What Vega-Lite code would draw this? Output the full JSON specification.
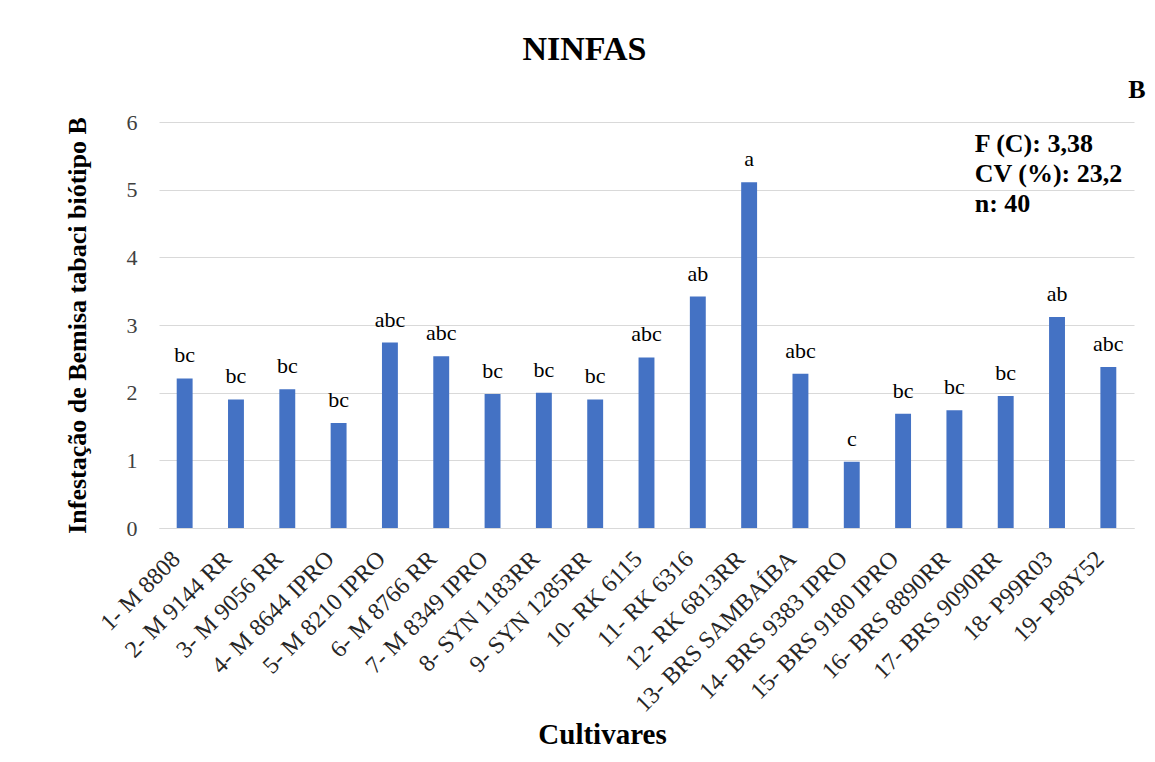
{
  "$schema": "https://vega.github.io/schema/vega-lite/v6.json",
  "autosize": "none",
  "width": 975,
  "height": 406,
  "padding": {"left": 159, "top": 122, "right": 21, "bottom": 234},
  "background": "white",
  "title": {
    "text": "NINFAS",
    "font": "Liberation Serif",
    "fontSize": 34,
    "fontWeight": "bold",
    "color": "#000000",
    "anchor": "middle",
    "baseline": "alphabetic",
    "offset": -17,
    "dx": -62
  },
  "config": {
    "view": {"stroke": null},
    "font": "Liberation Serif",
    "mark": {"font": "Liberation Serif"},
    "text": {"font": "Liberation Serif"}
  },
  "data": {
    "values": [
      {"cultivar": "1- M 8808", "valor": 2.21, "letra": "bc"},
      {"cultivar": "2- M 9144 RR", "valor": 1.90, "letra": "bc"},
      {"cultivar": "3- M 9056 RR", "valor": 2.05, "letra": "bc"},
      {"cultivar": "4- M 8644 IPRO", "valor": 1.55, "letra": "bc"},
      {"cultivar": "5- M 8210 IPRO", "valor": 2.74, "letra": "abc"},
      {"cultivar": "6- M 8766  RR", "valor": 2.54, "letra": "abc"},
      {"cultivar": "7- M 8349 IPRO", "valor": 1.98, "letra": "bc"},
      {"cultivar": "8- SYN 1183RR", "valor": 2.00, "letra": "bc"},
      {"cultivar": "9- SYN 1285RR", "valor": 1.90, "letra": "bc"},
      {"cultivar": "10- RK 6115", "valor": 2.52, "letra": "abc"},
      {"cultivar": "11- RK 6316", "valor": 3.42, "letra": "ab"},
      {"cultivar": "12- RK 6813RR", "valor": 5.11, "letra": "a"},
      {"cultivar": "13- BRS SAMBAÍBA", "valor": 2.28, "letra": "abc"},
      {"cultivar": "14- BRS 9383 IPRO", "valor": 0.98, "letra": "c"},
      {"cultivar": "15- BRS 9180 IPRO", "valor": 1.69, "letra": "bc"},
      {"cultivar": "16- BRS 8890RR", "valor": 1.74, "letra": "bc"},
      {"cultivar": "17- BRS 9090RR", "valor": 1.95, "letra": "bc"},
      {"cultivar": "18- P99R03", "valor": 3.12, "letra": "ab"},
      {"cultivar": "19- P98Y52", "valor": 2.38, "letra": "abc"}
    ]
  },
  "layer": [
    {
      "mark": {"type": "bar", "color": "#4472C4"},
      "encoding": {
        "x": {
          "field": "cultivar",
          "type": "nominal",
          "sort": null,
          "scale": {"paddingInner": 0.69, "paddingOuter": 0.345},
          "axis": {
            "title": "Cultivares",
            "titleFont": "Liberation Serif",
            "titleFontSize": 29,
            "titleFontWeight": "bold",
            "titleColor": "#000000",
            "titleX": 443,
            "titleY": 215,
            "titleBaseline": "alphabetic",
            "titleAlign": "center",
            "labelAngle": -45,
            "labelAlign": "right",
            "labelBaseline": "middle",
            "labelFont": "Liberation Serif",
            "labelFontSize": 24,
            "labelColor": "#262626",
            "labelPadding": 27,
            "labelOffset": -8,
            "labelOverlap": false,
            "labelLimit": 400,
            "ticks": false,
            "domainColor": "#d9d9d9",
            "domainWidth": 1
          }
        },
        "y": {
          "field": "valor",
          "type": "quantitative",
          "scale": {"domain": [0, 6], "nice": false},
          "axis": {
            "title": "Infestação de Bemisa tabaci biótipo B",
            "titleFont": "Liberation Serif",
            "titleFontSize": 26,
            "titleFontWeight": "bold",
            "titleColor": "#000000",
            "titleX": -82,
            "titleY": 203,
            "titleAngle": -90,
            "titleAlign": "center",
            "titleBaseline": "middle",
            "values": [0, 1, 2, 3, 4, 5, 6],
            "format": "d",
            "labelFont": "Liberation Serif",
            "labelFontSize": 22,
            "labelColor": "#404040",
            "labelPadding": 22,
            "ticks": false,
            "domain": false,
            "grid": true,
            "gridColor": "#d9d9d9",
            "gridWidth": 1
          }
        }
      }
    },
    {
      "mark": {
        "type": "text",
        "font": "Liberation Serif",
        "fontSize": 22,
        "color": "#000000",
        "baseline": "alphabetic",
        "dy": -16
      },
      "encoding": {
        "x": {"field": "cultivar", "type": "nominal", "sort": null},
        "y": {"field": "valor", "type": "quantitative"},
        "text": {"field": "letra"}
      }
    },
    {
      "data": {"values": [{"rotulo": "F (C): 3,38\nCV (%): 23,2\nn: 40"}]},
      "mark": {
        "type": "text",
        "font": "Liberation Serif",
        "fontSize": 26,
        "fontWeight": "bold",
        "color": "#000000",
        "align": "left",
        "baseline": "alphabetic",
        "lineBreak": "\n",
        "lineHeight": 30,
        "dx": -31
      },
      "encoding": {
        "x": {"datum": "17- BRS 9090RR", "type": "nominal"},
        "y": {"datum": 5.556, "type": "quantitative"},
        "text": {"field": "rotulo", "type": "nominal"}
      }
    },
    {
      "data": {"values": [{"rotulo": "B"}]},
      "mark": {
        "type": "text",
        "font": "Liberation Serif",
        "fontSize": 26,
        "fontWeight": "bold",
        "color": "#000000",
        "align": "left",
        "baseline": "alphabetic",
        "clip": false,
        "dx": 20
      },
      "encoding": {
        "x": {"datum": "19- P98Y52", "type": "nominal"},
        "y": {"datum": 6.355, "type": "quantitative"},
        "text": {"field": "rotulo", "type": "nominal"}
      }
    }
  ]
}
